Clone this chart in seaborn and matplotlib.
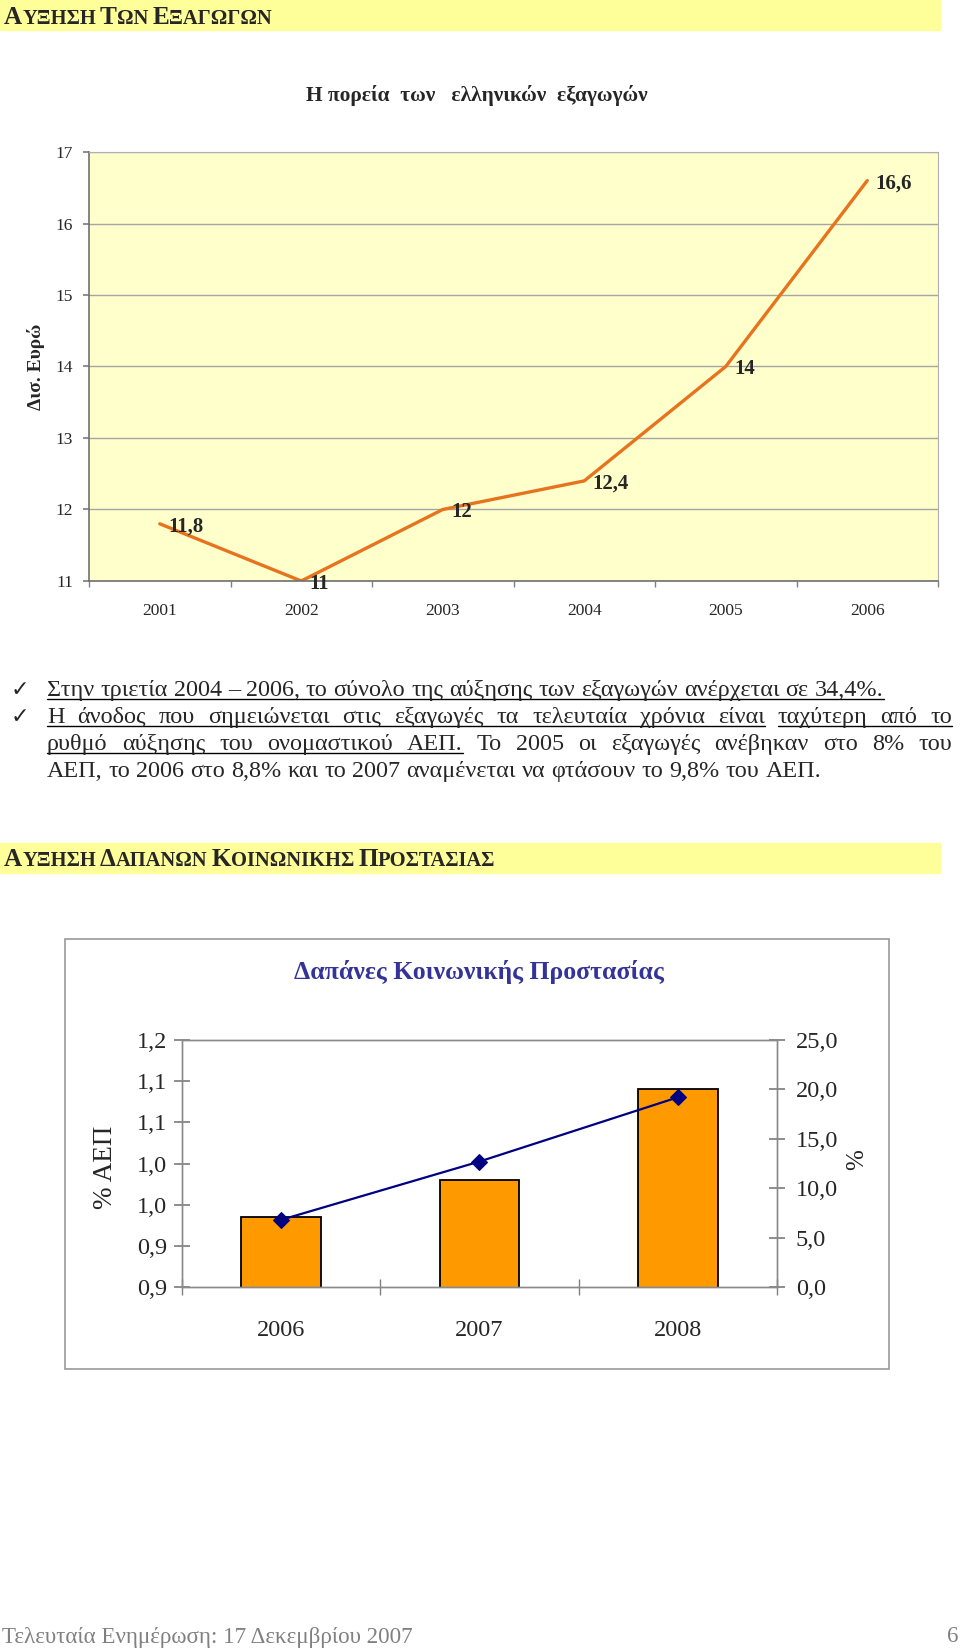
import numpy as np
import pandas as pd
import matplotlib
matplotlib.use("Agg")
import matplotlib.pyplot as plt
import seaborn as sns
from matplotlib.patches import Rectangle
from matplotlib.lines import Line2D

# ---------------- data ----------------
years1 = ["2001", "2002", "2003", "2004", "2005", "2006"]
exports = [11.8, 11.0, 12.0, 12.4, 14.0, 16.6]
export_labels = ["11,8", "11", "12", "12,4", "14", "16,6"]
y1_ticks = [11, 12, 13, 14, 15, 16, 17]

years2 = ["2006", "2007", "2008"]
spend_gdp = [0.985, 1.03, 1.14]
spend_pct = [6.8, 12.7, 19.2]
left_ticks = [0.9, 0.95, 1.0, 1.05, 1.1, 1.15, 1.2]
left_labels = ["0,9", "0,9", "1,0", "1,0", "1,1", "1,1", "1,2"]
right_ticks = [0, 5, 10, 15, 20, 25]
right_labels = ["0,0", "5,0", "10,0", "15,0", "20,0", "25,0"]

header1 = "ΑΥΞΗΣΗ ΤΩΝ ΕΞΑΓΩΓΩΝ"
header2 = "ΑΥΞΗΣΗ ΔΑΠΑΝΩΝ ΚΟΙΝΩΝΙΚΗΣ ΠΡΟΣΤΑΣΙΑΣ"
title1 = "Η πορεία  των   ελληνικών  εξαγωγών"
title2 = "Δαπάνες Κοινωνικής Προστασίας"
ylabel1 = "Δισ. Ευρώ"
footer = "Τελευταία Ενημέρωση: 17 Δεκεμβρίου 2007"
page_no = "6"

# bullet lines: (text, justified, underline word ranges, starts bullet)
bullet_lines = [
    ("Στην τριετία 2004 – 2006, το σύνολο της αύξησης των εξαγωγών ανέρχεται σε 34,4%.", False, [(0, 13)], True),
    ("Η άνοδος που σημειώνεται στις εξαγωγές τα τελευταία χρόνια είναι ταχύτερη από το", True, [(0, 9), (10, 12)], True),
    ("ρυθμό αύξησης του ονομαστικού ΑΕΠ. Το 2005 οι εξαγωγές ανέβηκαν στο 8% του", True, [(0, 4)], False),
    ("ΑΕΠ, το 2006 στο 8,8% και το 2007 αναμένεται να φτάσουν το 9,8% του ΑΕΠ.", False, [], False),
]

# ---------------- setup ----------------
W, H = 960, 1648
sns.set_theme(style="white")
plt.rcParams["font.family"] = ["Liberation Serif", "DejaVu Serif"]
fig = plt.figure(figsize=(W / 100, H / 100), dpi=100)
fig.patch.set_facecolor("white")


def fx(px):
    return px / W


def fy(py):
    return 1 - py / H


renderer = fig.canvas.get_renderer()


def text_width(s, **kw):
    t = fig.text(0, 0, s, **kw)
    w = t.get_window_extent(renderer).width
    t.remove()
    return w


def small_caps(text, x0, ybase, big, small, **kw):
    x = x0
    sp = text_width("Α Α", fontsize=big, **kw) - text_width("ΑΑ", fontsize=big, **kw)
    for word in text.split(" "):
        for s, fs in [(word[0], big), (word[1:], small)]:
            if not s:
                continue
            fig.text(fx(x), fy(ybase), s, fontsize=fs, va="baseline", ha="left", **kw)
            x += text_width(s, fontsize=fs, **kw)
        x += sp * 1.1


# ---------------- header bands ----------------
YEL = "#FFFF99"
fig.add_artist(Rectangle((0, fy(30)), fx(940), 30 / H, transform=fig.transFigure,
                         color=YEL, zorder=0))
fig.add_artist(Rectangle((0, fy(873)), fx(940), 30 / H, transform=fig.transFigure,
                         color=YEL, zorder=0))
small_caps(header1, 4, 24, 18.2, 14.8, fontweight="bold")
small_caps(header2, 4, 866, 18.2, 14.8, fontweight="bold")

# ---------------- chart 1 ----------------
fig.text(fx(477), fy(96), title1, ha="center", va="center", fontweight="bold", fontsize=15.4)

ax1 = fig.add_axes([fx(89), fy(581), fx(938) - fx(89), (581 - 152) / H])
df1 = pd.DataFrame({"pos": np.arange(len(years1)), "val": exports})
sns.lineplot(data=df1, x="pos", y="val", color="#E8731F", linewidth=2.4, ax=ax1)
ax1.set_xlim(-0.5, len(years1) - 0.5)
ax1.set_ylim(11, 17)
ax1.set_facecolor("#FFFFCC")
ax1.set_yticks(y1_ticks)
ax1.set_yticklabels([str(v) for v in y1_ticks])
ax1.yaxis.grid(True, color="#A5A5A5", linewidth=1)
ax1.set_axisbelow(True)
ax1.set_xticks(df1["pos"])
ax1.set_xticklabels(years1)
ax1.set_xticks(np.arange(-0.5, len(years1)), minor=True)
ax1.tick_params(axis="x", which="major", length=0, pad=16, labelsize=12.5)
ax1.tick_params(axis="x", which="minor", length=4, color="#808080", direction="out", bottom=True)
ax1.tick_params(axis="y", length=4.5, color="#808080", direction="out", left=True, pad=7, labelsize=12.5)
ax1.set_xlabel("")
ax1.set_ylabel("")
for sp in ["left", "bottom"]:
    ax1.spines[sp].set_color("#707070")
    ax1.spines[sp].set_linewidth(1.2)
for sp in ["top", "right"]:
    ax1.spines[sp].set_color("#B0B0B0")
    ax1.spines[sp].set_linewidth(0.8)
for i, (v, lab) in enumerate(zip(exports, export_labels)):
    ax1.annotate(lab, (i, v), xytext=(6, -2), textcoords="offset points",
                 ha="left", va="center", fontweight="bold", fontsize=15, annotation_clip=False)
fig.text(fx(36), fy(367), ylabel1, rotation=90, ha="center", va="center",
         fontweight="bold", fontsize=14)

# ---------------- bullets ----------------
BFS = 17.4
line_y = [696, 723, 750, 777]
x_left, x_right = 47, 952
sp_w = text_width("α α", fontsize=BFS) - text_width("αα", fontsize=BFS)
for (line, justified, unders, bullet), yb in zip(bullet_lines, line_y):
    words = line.split(" ")
    widths = [text_width(w, fontsize=BFS) for w in words]
    if justified:
        gap = (x_right - x_left - sum(widths)) / (len(words) - 1)
    else:
        gap = sp_w
    xs = []
    x = x_left
    for w, wd in zip(words, widths):
        xs.append(x)
        fig.text(fx(x), fy(yb), w, fontsize=BFS, ha="left", va="baseline")
        x += wd + gap
    for a, b in unders:
        fig.add_artist(Line2D([fx(xs[a]), fx(xs[b] + widths[b])], [fy(yb + 3), fy(yb + 3)],
                              transform=fig.transFigure, color="black", linewidth=1))
    if bullet:
        fig.text(fx(11), fy(yb), "✓", fontsize=16, ha="left", va="baseline",
                 family=["DejaVu Sans"], fontweight="bold")

# ---------------- chart 2 ----------------
fig.add_artist(Rectangle((fx(65), fy(1369)), fx(889) - fx(65), (1369 - 939) / H,
                         transform=fig.transFigure, fill=False, edgecolor="#9A9A9A", linewidth=1.2))
fig.text(fx(479), fy(972), title2, ha="center", va="center", fontweight="bold",
         fontsize=18.5, color="#333399")

ax2 = fig.add_axes([fx(182), fy(1287), fx(777) - fx(182), (1287 - 1040) / H])
df2 = pd.DataFrame({"year": years2, "gdp": spend_gdp, "pct": spend_pct,
                    "pos": np.arange(len(years2))})
sns.barplot(data=df2, x="year", y="gdp", color="#FF9900", saturation=1, edgecolor="black",
            linewidth=1.3, width=0.4, ax=ax2)
ax2.set_ylim(0.9, 1.2)
ax2.set_xlim(-0.5, len(years2) - 0.5)
ax2.set_yticks(left_ticks)
ax2.set_yticklabels(left_labels)
ax2.set_xticks(range(len(years2)))
ax2.set_xticklabels(years2)
ax2.set_xticks(np.arange(-0.5, len(years2)), minor=True)
ax2.tick_params(axis="x", which="major", length=0, pad=24, labelsize=17.5)
ax2.tick_params(axis="x", which="minor", length=12, color="#808080", direction="inout", bottom=True)
ax2.tick_params(axis="y", length=11, color="#808080", direction="inout", left=True, pad=5, labelsize=17.5)
ax2.set_xlabel("")
ax2.set_ylabel("")
for sp in ax2.spines.values():
    sp.set_color("#8A8A8A")
    sp.set_linewidth(1)

ax2r = ax2.twinx()
sns.lineplot(data=df2, x="pos", y="pct", ax=ax2r, color="#000080", linewidth=1.6,
             marker="D", markersize=8, markeredgecolor="#000080")
ax2r.set_ylim(0, 25)
ax2r.set_xlim(-0.5, len(years2) - 0.5)
ax2r.set_yticks(right_ticks)
ax2r.set_yticklabels(right_labels)
ax2r.tick_params(axis="y", length=11, color="#808080", direction="inout", right=True, pad=8, labelsize=17.5)
ax2r.set_ylabel("")
ax2r.set_xlabel("")
for sp in ax2r.spines.values():
    sp.set_color("#8A8A8A")
    sp.set_linewidth(1)

fig.text(fx(105), fy(1167), "% ΑΕΠ", rotation=90, ha="center", va="center", fontsize=19.5)
fig.text(fx(857), fy(1160), "%", rotation=90, ha="center", va="center", fontsize=18)

# ---------------- footer ----------------
fig.text(fx(2), fy(1637), footer, ha="left", va="center", fontsize=16.6, color="#808080")
fig.text(fx(958), fy(1637), page_no, ha="right", va="center", fontsize=16.6, color="#808080")

fig.savefig("out.png", dpi=100)
